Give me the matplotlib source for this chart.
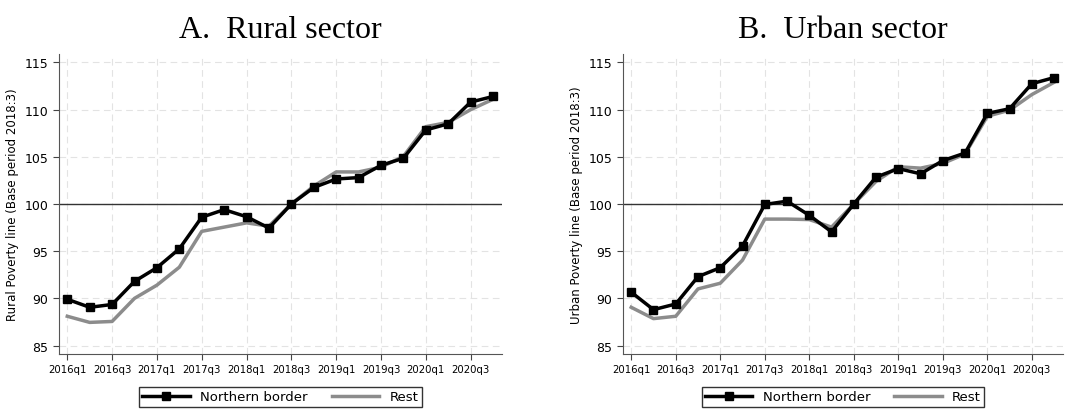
import matplotlib.pyplot as plt
import numpy as np

quarters = [f"{y}q{q}" for y in range(2016, 2021) for q in range(1, 5)]
tick_labels = quarters[::2]

rural_north = [89.9, 89.05, 89.35, 91.8, 93.25, 95.25, 98.6, 99.4, 98.65, 97.45,
               100.0, 101.75, 102.65, 102.8, 104.1, 104.85, 107.85, 108.5, 110.8, 111.4]
rural_rest = [88.1, 87.45, 87.55, 90.0, 91.4, 93.3, 97.1, 97.55, 98.0, 97.65,
              100.0, 101.9, 103.4, 103.4, 103.9, 105.05, 108.2, 108.65, 110.0, 111.1]
urban_north = [90.65, 88.8, 89.4, 92.3, 93.25, 95.55, 99.95, 100.3, 98.8, 97.05,
               100.0, 102.85, 103.75, 103.2, 104.6, 105.4, 109.6, 110.1, 112.75, 113.4]
urban_rest = [89.05, 87.85, 88.1, 91.0, 91.6, 94.05, 98.4, 98.4, 98.35, 97.55,
              100.0, 102.4, 103.95, 103.8, 104.3, 105.3, 109.3, 109.95, 111.6, 112.9]

panels = [("A.  Rural sector", "Rural Poverty line (Base period 2018:3)", rural_north, rural_rest),
          ("B.  Urban sector", "Urban Poverty line (Base period 2018:3)", urban_north, urban_rest)]

fig = plt.figure(figsize=(10.69, 4.10), dpi=100)
# axes boxes in pixels (left, top, width, height)
boxes = [[59, 55, 443, 300], [623, 55, 440, 300]]
boxes = [[b[0] / 1069, 1 - (b[1] + b[3]) / 410, b[2] / 1069, b[3] / 410] for b in boxes]

x = np.arange(len(quarters))
for box, (title, ylabel, north, rest) in zip(boxes, panels):
    ax = fig.add_axes(box)
    ax.plot(x, north, color='black', lw=2.5, marker='s', ms=6, label='Northern border', zorder=4)
    ax.plot(x, rest, color='#8c8c8c', lw=2.5, label='Rest', zorder=3)
    ax.axhline(100, color='#333333', lw=1, zorder=2)
    ax.set_xlim(-0.37, 19.4)
    ax.set_ylim(84.1, 115.9)
    ax.set_yticks([85, 90, 95, 100, 105, 110, 115])
    ax.set_xticks(x[::2])
    ax.set_xticklabels(tick_labels, fontsize=7.3)
    ax.tick_params(axis='y', labelsize=9, color='#444444', length=4)
    ax.tick_params(axis='x', color='#444444', length=4)
    ax.grid(True, color='#e3e3e3', ls=(0, (6, 4)), lw=0.8)
    for s in ['top', 'right']:
        ax.spines[s].set_visible(False)
    for s in ['left', 'bottom']:
        ax.spines[s].set_color('#555555')
    ax.set_ylabel(ylabel, fontsize=8.5)
    ax.set_title(title, family='Liberation Serif', fontsize=23, pad=12)
    leg = ax.legend(loc='upper center', bbox_to_anchor=(0.5, -0.088), ncol=2, frameon=True,
                    fancybox=False, edgecolor='black', fontsize=9.5, handlelength=3.6,
                    columnspacing=1.8, borderpad=0.25, handletextpad=0.8)
    leg.get_frame().set_linewidth(1)

fig.savefig('out.png', dpi=100)
